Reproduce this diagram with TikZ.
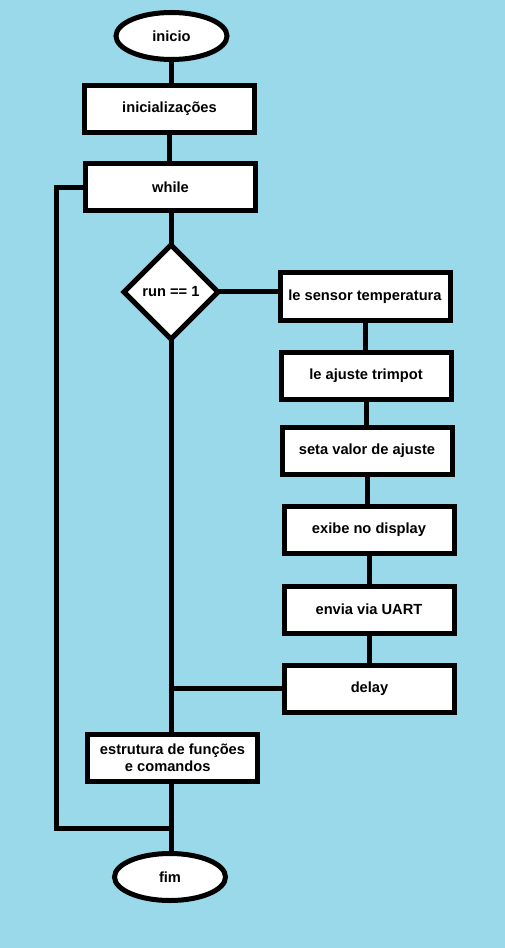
\documentclass[tikz,border=0pt]{standalone}
\usepackage{fontspec}
\setmainfont{Liberation Sans}
\usetikzlibrary{shapes.geometric}
\definecolor{bgblue}{RGB}{153,217,234}
\begin{document}
\begin{tikzpicture}[x=0.75pt,y=-0.75pt,
  every node/.style={font=\fontsize{11}{12.75}\selectfont\bfseries, line width=3.75pt, draw=black, fill=white, inner sep=0pt, outer sep=0pt},
  term/.style={ellipse, minimum width=83.25pt, minimum height=35.25pt},
  proc/.style={rectangle, minimum width=127.5pt, minimum height=35.25pt},
  dec/.style={diamond, aspect=1, minimum width=70.5pt, minimum height=70.5pt},
  conn/.style={line width=3.75pt}]
\useasboundingbox (0,0) rectangle (504,948);
\fill[bgblue] (-2,-2) rectangle (506,950);
\node[term] (inicio) at (171.5,36) {inicio};
\node[proc] (init) at (169.5,109) {inicializações};
\node[proc] (while) at (170.5,187.5) {while};
\node[dec] (dia) at (171,292) {run == 1};
\node[proc] (sensor) at (365,296.5) {le sensor temperatura};
\node[proc] (ajuste) at (366,375.5) {le ajuste trimpot};
\node[proc] (seta) at (367,450.5) {seta valor de ajuste};
\node[proc] (exibe) at (369,529.5) {exibe no display};
\node[proc] (uart) at (369,609.5) {envia via UART};
\node[proc] (delay) at (369.5,688.5) {delay};
\node[proc, align=left] (estr) at (172.5,758) {estrutura de funções\\\hspace*{18.75pt}e comandos};
\node[term] (fim) at (170,877) {fim};
\coordinate (lt) at (56,187.5);
\coordinate (lb) at (56,828);
\begin{scope}[on background layer/.try]
\end{scope}
\draw[conn] (inicio.south) -- (init.north -| inicio.south);
\draw[conn] (init.south) -- (while.north -| init.south);
\draw[conn] (while.south -| dia.north) -- (dia.north);
\draw[conn] (dia.east) -- (dia.east -| sensor.west);
\draw[conn] (sensor.south) -- (ajuste.north -| sensor.south);
\draw[conn] (ajuste.south) -- (seta.north -| ajuste.south);
\draw[conn] (seta.south) -- (exibe.north -| seta.south);
\draw[conn] (exibe.south) -- (uart.north);
\draw[conn] (uart.south) -- (delay.north -| uart.south);
\draw[conn] (delay.west) -- (delay.west -| dia.south);
\draw[conn] (dia.south) -- (estr.north -| dia.south);
\draw[conn] (estr.south -| dia.south) -- (fim.north -| dia.south);
\draw[conn] (while.west) -- (lt) -- (lb) -- (lb -| dia.south);
\end{tikzpicture}
\end{document}
